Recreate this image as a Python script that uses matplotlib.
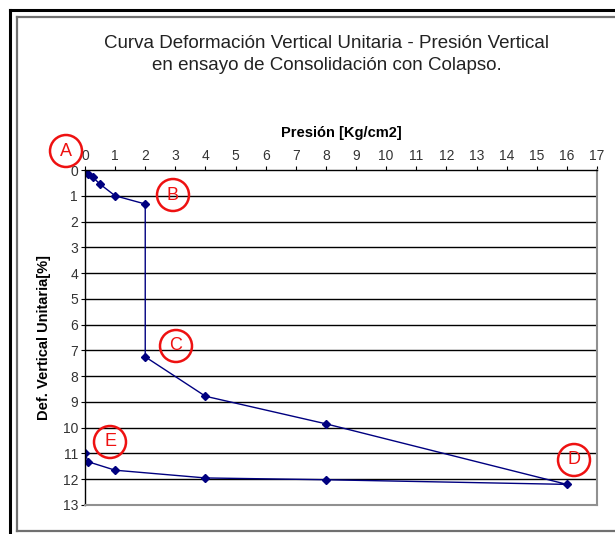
import matplotlib
matplotlib.use("Agg")
import matplotlib.pyplot as plt
from matplotlib.lines import Line2D
from matplotlib.patches import Ellipse

plt.rcParams['font.family'] = ['Liberation Sans', 'DejaVu Sans']

# Data
presion = [0, 0.1, 0.25, 0.5, 1, 2, 2, 4, 8, 16, 8, 4, 1, 0.1, 0]
deformacion = [0, 0.15, 0.27, 0.55, 1.0, 1.32, 7.25, 8.78, 9.85, 12.2, 12.02, 11.95, 11.65, 11.32, 10.98]
x_ticks = list(range(0, 18))
y_ticks = list(range(0, 14))
labels = ['A', 'B', 'C', 'D', 'E']

W, H = 615, 534
fig = plt.figure(figsize=(W / 100, H / 100), dpi=100)

def fx(px):
    return px / W

def fy(py):
    return 1 - py / H

# outer frames
fig.add_artist(Line2D([fx(10), fx(10)], [fy(10), 0], color='black', lw=2.2))
fig.add_artist(Line2D([fx(10), 1], [fy(10), fy(10)], color='black', lw=2.2))
fig.add_artist(Line2D([fx(16.5), fx(16.5)], [fy(16.5), fy(531)], color='#707070', lw=1.6))
fig.add_artist(Line2D([fx(16.5), 1], [fy(16.5), fy(16.5)], color='#707070', lw=1.6))
fig.add_artist(Line2D([fx(16.5), 1], [fy(531), fy(531)], color='#707070', lw=1.6))

ax = fig.add_axes([fx(85), fy(505), fx(597) - fx(85), fy(170) - fy(505)])
ax.plot(presion, deformacion, color='#000080', lw=1.0, marker='D', markersize=4.5,
        markerfacecolor='#000080', markeredgecolor='#000080')
ax.set_xlim(0, 17)
ax.set_ylim(13, 0)
ax.set_xticks(x_ticks)
ax.set_yticks(y_ticks)
ax.xaxis.tick_top()
ax.xaxis.set_label_position('top')
ax.tick_params(axis='both', labelsize=10, colors='black', length=3, width=0.8, pad=2)
ax.tick_params(axis='x', labelcolor='#333333')
ax.tick_params(axis='y', labelcolor='#333333')
for y in y_ticks[1:-1]:
    ax.axhline(y, color='black', lw=1.0, zorder=0)
ax.spines['top'].set_color('black')
ax.spines['left'].set_color('black')
ax.spines['right'].set_color('#909090')
ax.spines['bottom'].set_color('#909090')
for s in ax.spines.values():
    s.set_linewidth(1.0)
ax.spines['right'].set_linewidth(1.5)
ax.spines['bottom'].set_linewidth(1.5)
ax.set_xlabel('Presión [Kg/cm2]', fontsize=10.5, fontweight='bold', labelpad=9)
ax.set_ylabel('Def. Vertical Unitaria[%]', fontsize=10.5, fontweight='bold', labelpad=8)

fig.text(fx(327), fy(43), 'Curva Deformación Vertical Unitaria - Presión Vertical',
         ha='center', va='center', fontsize=13.5, color='#222222')
fig.text(fx(327), fy(66), 'en ensayo de Consolidación con Colapso.',
         ha='center', va='center', fontsize=13.5, color='#222222')

# circled letters
centers = [(66, 151), (173, 195), (176, 346), (574, 460), (110, 442)]
r = 16
for lab, (cx, cy) in zip(labels, centers):
    fig.add_artist(Ellipse((fx(cx), fy(cy)), width=2 * r / W, height=2 * r / H,
                           fill=False, edgecolor='#ee1111', lw=1.8))
    fig.text(fx(cx), fy(cy), lab, ha='center', va='center', fontsize=13, color='#ee1111')

fig.savefig('out.png', dpi=100)
